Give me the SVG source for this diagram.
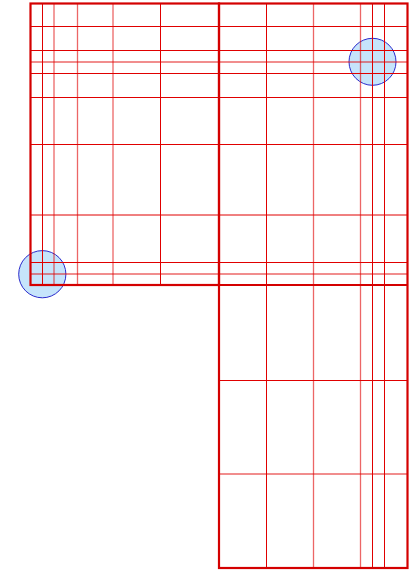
<svg xmlns="http://www.w3.org/2000/svg" width="416" height="570" viewBox="0 0 416 570">
<style>
.g{stroke:#e00000;stroke-width:1;fill:none}
.p{stroke:#e00000;stroke-width:1.3;fill:none;opacity:0.6}
.b{stroke:#d40000;stroke-width:2.2;fill:none}
.c{fill:#c6e4fb;stroke:#2a2acc;stroke-width:1}
</style>
<rect width="416" height="570" fill="#ffffff"/>
<g id="circle-top-right">
<circle class="c" cx="372.5" cy="61.8" r="23.5"/>
</g>
<g id="circle-bottom-left">
<circle class="c" cx="42.3" cy="274.2" r="23.6"/>
</g>
<g id="grid-upper">
<line class="g" x1="30" y1="26.5" x2="408" y2="26.5"/>
<line class="g" x1="30" y1="50.5" x2="408" y2="50.5"/>
<line class="p" x1="30" y1="62" x2="408" y2="62"/>
<line class="g" x1="30" y1="73.5" x2="408" y2="73.5"/>
<line class="g" x1="30" y1="97.5" x2="408" y2="97.5"/>
<line class="g" x1="30" y1="144.5" x2="408" y2="144.5"/>
<line class="g" x1="30" y1="215" x2="408" y2="215"/>
<line class="g" x1="30" y1="262.5" x2="408" y2="262.5"/>
<line class="p" x1="30" y1="274" x2="408" y2="274"/>
<line class="g" x1="42.5" y1="3" x2="42.5" y2="285"/>
<line class="p" x1="54" y1="3" x2="54" y2="285"/>
<line class="p" x1="77.5" y1="3" x2="77.5" y2="285"/>
<line class="p" x1="113" y1="3" x2="113" y2="285"/>
<line class="g" x1="160.5" y1="3" x2="160.5" y2="285"/>
</g>
<g id="grid-right">
<line class="g" x1="219" y1="380.5" x2="408" y2="380.5"/>
<line class="p" x1="219" y1="474" x2="408" y2="474"/>
<line class="g" x1="266.5" y1="3" x2="266.5" y2="568"/>
<line class="p" x1="313.5" y1="3" x2="313.5" y2="568"/>
<line class="p" x1="360.5" y1="3" x2="360.5" y2="568"/>
<line class="g" x1="372.5" y1="3" x2="372.5" y2="568"/>
<line class="g" x1="384.5" y1="3" x2="384.5" y2="568"/>
</g>
<g id="borders">
<rect class="b" x="30.5" y="3.5" width="188.5" height="281.5"/>
<rect class="b" x="219" y="3.5" width="188.5" height="564.5"/>
<line class="b" x1="219" y1="285" x2="408" y2="285"/>
</g>
</svg>
